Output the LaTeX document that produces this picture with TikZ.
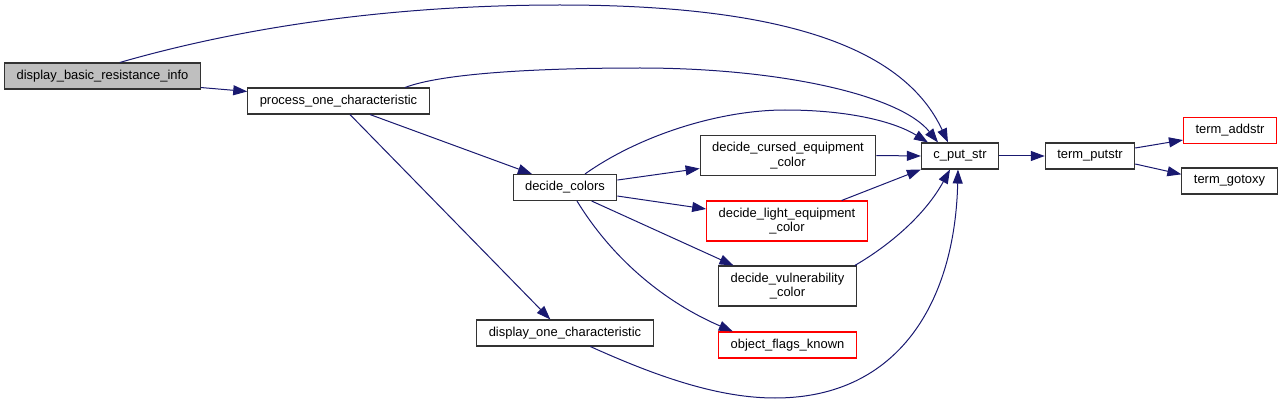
\documentclass[tikz,border=0pt]{standalone}
\usepackage{fontspec}
\setmainfont{Liberation Sans}
\usetikzlibrary{arrows.meta,positioning}
\definecolor{edgeblue}{HTML}{191970}
\definecolor{rootgray}{HTML}{BFBFBF}
\definecolor{boxline}{HTML}{333333}
\begin{document}
\begin{tikzpicture}[
    x=0.75pt, y=-0.75pt,
    fn/.style = {rectangle, draw=boxline, line width=0.8pt, fill=white, inner xsep=9pt, inner ysep=0pt, minimum height=19.5pt, align=center, font=\fontsize{9.7}{11}\selectfont},
    fntwo/.style = {fn, minimum height=30pt},
    root/.style = {fn, fill=rootgray},
    undoc/.style = {draw=red},
    call/.style = {draw=edgeblue, line width=0.75pt, -{Triangle[length=10.5pt,width=7.5pt]}, fill=none}
]
\useasboundingbox (0,0) rectangle (1283,403);
\node[root] (basic) at (102.5,76) {display\_basic\_resistance\_info};
\node[fn] (proc) at (338.5,101) {process\_one\_characteristic};
\node[fn] (colors) at (565,187.5) {decide\_colors};
\node[fntwo] (cursed) at (788,155.5) {decide\_cursed\_equipment\\\_color};
\node[fntwo, undoc] (light) at (787,221) {decide\_light\_equipment\\\_color};
\node[fntwo] (vuln) at (787.5,286) {decide\_vulnerability\\\_color};
\node[fn] (dispone) at (565,333) {display\_one\_characteristic};
\node[fn, undoc] (flags) at (787.5,345) {object\_flags\_known};
\node[fn] (cput) at (960,156) {c\_put\_str};
\node[fn] (putstr) at (1090,156) {term\_putstr};
\node[fn, undoc] (addstr) at (1230,130.5) {term\_addstr};
\node[fn] (gotoxy) at (1229.5,181) {term\_gotoxy};

\draw[call] ([xshift=13pt]basic.north) .. controls (250,25) and (400,5) .. (560,5) .. controls (790,5) and (905,50) .. ([xshift=-9pt]cput.north);
\draw[call] ([yshift=1.5pt]basic.south east) -- ([yshift=-3pt]proc.north west);
\draw[call] ([xshift=50pt]proc.north) .. controls (440,74) and (530,68) .. (640,68) .. controls (780,68) and (900,95) .. ([xshift=-16.5pt]cput.north);
\draw[call] ([xshift=23.6pt]proc.south) -- ([xshift=-24.8pt]colors.north);
\draw[call] ([xshift=8.6pt]proc.south) -- ([xshift=-11pt]dispone.north);
\draw[call] ([xshift=15pt]colors.north) .. controls (640,135) and (720,110) .. (785,110) .. controls (850,110) and (895,122) .. ([xshift=-24pt]cput.north);
\draw[call] ([yshift=5.6pt]colors.east) -- ([yshift=-9.75pt]cursed.west);
\draw[call] ([yshift=-6.4pt]colors.east) -- ([yshift=9pt]light.west);
\draw[call] ([xshift=20pt]colors.south) -- ([xshift=-40.5pt]vuln.north);
\draw[call] ([xshift=9pt]colors.south) .. controls (610,255) and (660,300) .. ([xshift=-41pt]flags.north);
\draw[call] (cursed.east) -- (cput.west);
\draw[call] ([xshift=41pt]light.north) -- (cput.south west);
\draw[call] ([xshift=-1.5pt]vuln.north east) .. controls (890,245) and (925,215) .. ([xshift=-7.5pt]cput.south);
\draw[call] ([xshift=19pt]dispone.south) .. controls (660,378) and (720,398) .. (775,398) .. controls (900,398) and (955,300) .. ([xshift=-1.5pt]cput.south);
\draw[call] (cput.east) -- (putstr.west);
\draw[call] ([yshift=6pt]putstr.east) -- ([yshift=3pt]addstr.south west);
\draw[call] ([yshift=-6pt]putstr.east) -- ([yshift=5pt]gotoxy.west);
\end{tikzpicture}
\end{document}
